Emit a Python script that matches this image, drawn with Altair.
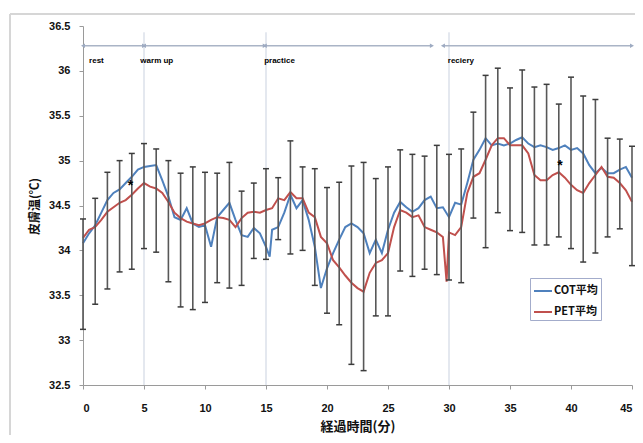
import altair as alt
import pandas as pd

# ---------------- data ----------------
minutes = list(range(46))
bar_top = [34.35, 34.58, 34.87, 35.00, 35.08, 35.19, 35.13, 35.00, 34.86, 34.93,
           34.87, 34.86, 34.98, 34.66, 34.75, 34.91, 34.81, 35.22, 34.93, 34.91,
           34.70, 34.76, 34.94, 34.98, 34.80, 34.93, 35.12, 35.07, 35.05, 35.17,
           35.07, 35.13, 35.54, 35.95, 36.03, 35.81, 36.01, 35.82, 35.85, 35.63,
           35.93, 35.72, 35.68, 35.25, 35.24, 35.16]
bar_bottom = [33.12, 33.40, 33.57, 33.76, 33.79, 34.02, 33.98, 33.65, 33.37, 33.34,
              33.42, 33.64, 33.58, 33.61, 33.91, 33.90, 34.12, 33.96, 34.00, 33.61,
              33.30, 33.17, 32.73, 32.66, 33.27, 33.27, 33.77, 33.71, 33.79, 33.73,
              33.67, 33.64, 34.36, 34.03, 34.42, 34.22, 34.20, 34.06, 34.06, 34.15,
              34.02, 33.87, 33.97, 34.15, 34.24, 33.83]

cot_time = [0, 0.5, 1, 1.5, 2, 2.5, 3, 3.5, 4, 4.5, 5, 5.5, 6, 6.5, 7, 7.5, 8, 8.5, 9, 9.5,
            10, 10.5, 11, 11.5, 12, 12.5, 13, 13.5, 14, 14.5, 15, 15.3, 15.5, 16, 16.5, 17,
            17.5, 18, 18.5, 19, 19.5, 20, 20.5, 21, 21.5, 22, 22.5, 23, 23.5, 24, 24.5, 25,
            25.5, 26, 26.5, 27, 27.5, 28, 28.5, 29, 29.5, 30, 30.5, 31, 31.5, 32, 32.5, 33,
            33.5, 34, 34.5, 35, 35.5, 36, 36.5, 37, 37.5, 38, 38.5, 39, 39.5, 40, 40.5, 41,
            41.5, 42, 42.5, 43, 43.5, 44, 44.5, 45]
cot_temp = [34.08, 34.19, 34.28, 34.42, 34.56, 34.64, 34.68, 34.75, 34.82, 34.90, 34.93, 34.94,
            34.95, 34.78, 34.60, 34.37, 34.34, 34.47, 34.30, 34.26, 34.28, 34.04, 34.37, 34.45,
            34.53, 34.34, 34.17, 34.15, 34.25, 34.19, 34.04, 33.93, 34.23, 34.26, 34.42, 34.62,
            34.47, 34.56, 34.34, 34.04, 33.58, 33.80, 33.97, 34.12, 34.26, 34.30, 34.26, 34.19,
            33.97, 34.12, 33.97, 34.23, 34.42, 34.54, 34.48, 34.43, 34.47, 34.56, 34.60, 34.47,
            34.48, 34.37, 34.53, 34.51, 34.75, 35.01, 35.12, 35.25, 35.17, 35.19, 35.17, 35.19,
            35.23, 35.26, 35.19, 35.15, 35.17, 35.15, 35.12, 35.14, 35.17, 35.12, 35.14, 35.08,
            34.95, 34.86, 34.92, 34.86, 34.86, 34.90, 34.93, 34.81]

pet_time = [0, 0.5, 1, 1.5, 2, 2.5, 3, 3.5, 4, 4.5, 5, 5.5, 6, 6.5, 7, 7.5, 8, 8.5, 9, 9.5,
            10, 10.5, 11, 11.5, 12, 12.5, 13, 13.5, 14, 14.5, 15, 15.5, 16, 16.5, 17, 17.5,
            18, 18.5, 19, 19.5, 20, 20.5, 21, 21.5, 22, 22.5, 23, 23.5, 24, 24.5, 25, 25.5,
            26, 26.5, 27, 27.5, 28, 28.5, 29, 29.5, 29.8, 30, 30.5, 31, 31.5, 32, 32.5, 33,
            33.5, 34, 34.5, 35, 35.5, 36, 36.5, 37, 37.5, 38, 38.5, 39, 39.5, 40, 40.5, 41,
            41.5, 42, 42.5, 43, 43.5, 44, 44.5, 45]
pet_temp = [34.14, 34.23, 34.26, 34.34, 34.43, 34.48, 34.53, 34.56, 34.62, 34.69, 34.75, 34.71,
            34.69, 34.64, 34.54, 34.42, 34.36, 34.32, 34.30, 34.28, 34.30, 34.34, 34.37, 34.36,
            34.34, 34.26, 34.36, 34.42, 34.43, 34.42, 34.45, 34.47, 34.58, 34.56, 34.65, 34.58,
            34.58, 34.42, 34.37, 34.15, 34.08, 33.89, 33.81, 33.72, 33.64, 33.58, 33.54, 33.75,
            33.86, 33.89, 33.97, 34.26, 34.45, 34.42, 34.37, 34.39, 34.26, 34.23, 34.20, 34.15,
            33.65, 34.20, 34.17, 34.26, 34.64, 34.82, 34.86, 35.01, 35.17, 35.25, 35.25, 35.17,
            35.17, 35.17, 35.08, 34.84, 34.78, 34.78, 34.84, 34.87, 34.81, 34.73, 34.67, 34.64,
            34.75, 34.84, 34.93, 34.82, 34.81, 34.75, 34.67, 34.54]

series_names = ["COT平均", "PET平均"]
series_colors = ["#4F81BD", "#C0504D"]

phase_names = ["rest", "warm up", "practice", "reciery"]
phase_start = [0, 5, 14.9, 29.5]
phase_end = [5, 14.9, 28.6, 45]
phase_label_t = [0.5, 4.7, 14.85, 29.9]
phase_arrow_temp = 36.28
phase_label_temp = 36.11

boundary_minutes = [5, 15, 30]
boundary_top = 36.43

star_time = [3.9, 39.1]
star_temp = [34.75, 34.97]

y_ticks = [32.5, 33, 33.5, 34, 34.5, 35, 35.5, 36, 36.5]
x_ticks = [0, 5, 10, 15, 20, 25, 30, 35, 40, 45]

# ---------------- frames ----------------
lines_df = pd.concat([
    pd.DataFrame({"t": cot_time, "v": cot_temp, "series": series_names[0]}),
    pd.DataFrame({"t": pet_time, "v": pet_temp, "series": series_names[1]}),
])
bars_df = pd.DataFrame({"t": minutes, "top": bar_top, "bottom": bar_bottom})
phase_df = pd.DataFrame({"name": phase_names, "start": phase_start, "end": phase_end,
                         "label_t": phase_label_t,
                         "yv": [phase_arrow_temp] * 4, "ly": [phase_label_temp] * 4})
bound_df = pd.DataFrame({"t": boundary_minutes, "top": [boundary_top] * 3, "bottom": [32.5] * 3})
star_df = pd.DataFrame({"t": star_time, "v": star_temp})

LAT = "Liberation Sans"
CJK = "Noto Sans CJK JP"

xscale = alt.Scale(domain=[0, 45], nice=False, zero=False)
yscale = alt.Scale(domain=[32.5, 36.5], nice=False, zero=False)
xaxis = alt.Axis(values=x_ticks, format="d", grid=False, labelFont=LAT, labelFontWeight="bold",
                 labelFontSize=11, labelColor="#111", domainColor="#9a9a9a", tickColor="#9a9a9a",
                 tickSize=4, labelPadding=13, titleFont=CJK, titleFontWeight="bold",
                 titleFontSize=13, titleColor="#111", titlePadding=7)
yaxis = alt.Axis(values=y_ticks, format=".1~f", grid=False, labelFont=LAT, labelFontWeight="bold",
                 labelFontSize=11, labelColor="#111", domainColor="#9a9a9a", tickColor="#9a9a9a",
                 tickSize=4, labelPadding=9, titleFont=CJK, titleFontWeight="bold",
                 titleFontSize=12, titleColor="#111", titleAngle=270, titleX=-49, titleY=180,
                 titleAlign="center", titleBaseline="middle")
XT = "経過時間(分)"
YT = "皮膚温(℃)"


def X(f):
    return alt.X(f, type="quantitative", scale=xscale, axis=xaxis, title=XT)


def Y(f):
    return alt.Y(f, type="quantitative", scale=yscale, axis=yaxis, title=YT)


frame_left = alt.Chart(bars_df.head(1)).mark_rule(color="#d6d6d6", strokeWidth=2).encode(
    x=alt.value(-73), y=alt.value(-12), y2=alt.value(410))
frame_top = alt.Chart(bars_df.head(1)).mark_rule(color="#d6d6d6", strokeWidth=2).encode(
    x=alt.value(-73), x2=alt.value(552), y=alt.value(-12))

bounds = alt.Chart(bound_df).mark_rule(color="#c9d1df", strokeWidth=1).encode(
    x=X("t"), y=Y("top"), y2="bottom")

arrows = alt.Chart(phase_df).mark_rule(color="#aab4c6", strokeWidth=1.5).encode(
    x=X("start"), x2="end", y=Y("yv"))
heads_l = alt.Chart(phase_df).mark_point(shape="triangle-left", filled=True, size=22,
                                          color="#9eabc2", opacity=1).encode(
    x=X("start"), y=Y("yv"))
heads_r = alt.Chart(phase_df).mark_point(shape="triangle-right", filled=True, size=22,
                                          color="#9eabc2", opacity=1).encode(
    x=X("end"), y=Y("yv"))
phase_text = alt.Chart(phase_df).mark_text(font=LAT, fontWeight="bold", fontSize=8, align="left",
                                            baseline="middle", color="#000").encode(
    x=X("label_t"), y=Y("ly"), text="name:N")

lines = alt.Chart(lines_df).mark_line(strokeWidth=2).encode(
    x=X("t"), y=Y("v"),
    color=alt.Color("series:N",
                    scale=alt.Scale(domain=series_names, range=series_colors),
                    legend=alt.Legend(title=None, orient="none", legendX=447, legendY=252,
                                      symbolType="stroke", symbolSize=324, symbolStrokeWidth=2,
                                      labelFont=CJK, labelFontWeight="bold", labelFontSize=11,
                                      labelColor="#111", labelOffset=1, rowPadding=6,
                                      padding=3, strokeColor="#a3accb", fillColor="#ffffff")),
    detail="series:N")

bars = alt.Chart(bars_df).mark_rule(color="#585858", strokeWidth=1.6).encode(
    x=X("t"), y=Y("top"), y2="bottom")
caps_top = alt.Chart(bars_df).mark_tick(orient="horizontal", size=6, thickness=1.5,
                                        color="#3c3c3c", opacity=1).encode(x=X("t"), y=Y("top"))
caps_bot = alt.Chart(bars_df).mark_tick(orient="horizontal", size=6, thickness=1.5,
                                        color="#3c3c3c", opacity=1).encode(x=X("t"), y=Y("bottom"))

stars = alt.Chart(star_df).mark_text(text="*", font=LAT, fontWeight="bold", fontSize=14,
                                     baseline="middle", dy=3, color="#000").encode(
    x=X("t"), y=Y("v"))

chart = alt.layer(frame_left, frame_top, bounds, arrows, heads_l, heads_r, phase_text,
                  lines, bars, caps_top, caps_bot, stars).properties(
    width=549, height=359,
    padding={"left": 75, "top": 18, "right": 3, "bottom": 50},
    autosize=alt.AutoSizeParams(type="none"),
    background="#ffffff",
).configure_view(stroke=None)

chart.save("out.html", embed_options={"renderer": "svg", "actions": False})
